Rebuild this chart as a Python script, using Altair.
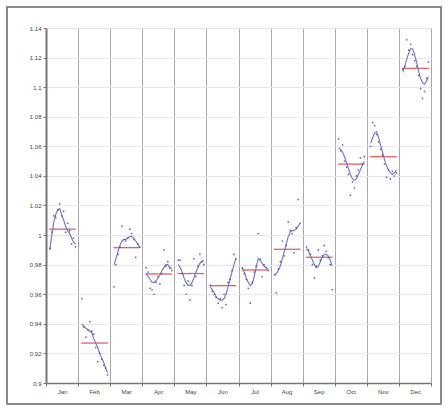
import altair as alt
import pandas as pd

# Month panels
months = ["Jan", "Feb", "Mar", "Apr", "May", "Jun",
          "Jul", "Aug", "Sep", "Oct", "Nov", "Dec"]

# Smoothed seasonal factor per month, one value per year
trend_jan = [0.990, 1.000, 1.009, 1.014, 1.017, 1.018, 1.014, 1.010, 1.006, 1.003, 1.001, 0.998, 0.995, 0.994]
trend_feb = [0.940, 0.938, 0.937, 0.936, 0.935, 0.934, 0.930, 0.927, 0.924, 0.920, 0.917, 0.914, 0.910, 0.907]
trend_mar = [0.980, 0.984, 0.989, 0.993, 0.996, 0.997, 0.997, 0.998, 0.999, 0.999, 0.998, 0.996, 0.994, 0.992]
trend_apr = [0.974, 0.972, 0.970, 0.968, 0.968, 0.969, 0.971, 0.973, 0.976, 0.978, 0.980, 0.980, 0.978, 0.977]
trend_may = [0.980, 0.978, 0.975, 0.971, 0.968, 0.966, 0.966, 0.968, 0.971, 0.975, 0.978, 0.981, 0.982, 0.983]
trend_jun = [0.965, 0.963, 0.961, 0.958, 0.957, 0.956, 0.956, 0.957, 0.960, 0.965, 0.970, 0.975, 0.980, 0.984]
trend_jul = [0.978, 0.975, 0.971, 0.968, 0.966, 0.967, 0.972, 0.978, 0.984, 0.983, 0.981, 0.979, 0.978, 0.977]
trend_aug = [0.973, 0.974, 0.976, 0.979, 0.984, 0.989, 0.994, 0.999, 1.002, 1.003, 1.003, 1.004, 1.006, 1.008]
trend_sep = [0.991, 0.989, 0.986, 0.983, 0.980, 0.978, 0.979, 0.982, 0.985, 0.987, 0.987, 0.986, 0.983, 0.979]
trend_oct = [1.059, 1.058, 1.056, 1.053, 1.049, 1.045, 1.041, 1.038, 1.037, 1.038, 1.041, 1.044, 1.047, 1.050]
trend_nov = [1.062, 1.066, 1.069, 1.070, 1.066, 1.061, 1.056, 1.051, 1.047, 1.044, 1.042, 1.041, 1.042, 1.044]
trend_dec = [1.110, 1.114, 1.119, 1.123, 1.126, 1.126, 1.122, 1.117, 1.111, 1.106, 1.103, 1.102, 1.104, 1.107]

# Observed seasonal-irregular ratios per month, one value per year
obs_jan = [0.991, 1.002, 1.013, 1.012, 1.017, 1.021, 1.013, 1.016, 1.002, 1.008, 1.003, 0.994, 0.998, 0.992]
obs_feb = [0.957, 0.938, 0.931, 0.936, 0.9415, 0.935, 0.933, 0.924, 0.9145, 0.920, 0.916, 0.912, 0.910, 0.9055]
obs_mar = [0.965, 0.980, 0.987, 0.992, 1.006, 0.997, 0.996, 0.998, 1.004, 1.001, 0.997, 0.985, 0.994, 0.992]
obs_apr = [0.978, 0.975, 0.964, 0.963, 0.960, 0.968, 0.972, 0.967, 0.974, 0.990, 0.979, 0.982, 0.978, 0.976]
obs_may = [0.983, 0.983, 0.974, 0.966, 0.960, 0.969, 0.956, 0.966, 0.984, 0.972, 0.979, 0.987, 0.982, 0.980]
obs_jun = [0.966, 0.962, 0.960, 0.958, 0.954, 0.957, 0.951, 0.960, 0.953, 0.968, 0.970, 0.976, 0.987, 0.984]
obs_jul = [0.978, 0.974, 0.970, 0.964, 0.954, 0.968, 0.975, 0.979, 1.001, 0.984, 0.972, 0.980, 0.978, 0.976]
obs_aug = [0.973, 0.961, 0.977, 0.982, 0.996, 0.986, 0.993, 1.009, 1.003, 1.001, 0.988, 1.005, 1.024, 1.008]
obs_sep = [0.992, 0.990, 0.987, 0.980, 0.971, 0.979, 0.990, 0.983, 0.986, 0.993, 0.989, 0.985, 0.980, 0.963]
obs_oct = [1.065, 1.057, 1.061, 1.050, 1.046, 1.041, 1.027, 1.036, 1.032, 1.040, 1.044, 1.052, 1.048, 1.053]
obs_nov = [1.060, 1.076, 1.074, 1.068, 1.063, 1.058, 1.054, 1.048, 1.039, 1.044, 1.038, 1.043, 1.040, 1.042]
obs_dec = [1.112, 1.114, 1.132, 1.125, 1.129, 1.122, 1.118, 1.114, 1.108, 1.099, 1.0925, 1.097, 1.106, 1.117]

# Mean seasonal factor of each month
month_means = [1.004, 0.927, 0.9915, 0.9737, 0.974, 0.9658,
               0.9764, 0.9904, 0.985, 1.048, 1.053, 1.1127]

# Y axis ticks
y_ticks = [0.90, 0.92, 0.94, 0.96, 0.98, 1.00, 1.02,
           1.04, 1.06, 1.08, 1.10, 1.12, 1.14]

trends = [trend_jan, trend_feb, trend_mar, trend_apr, trend_may, trend_jun,
          trend_jul, trend_aug, trend_sep, trend_oct, trend_nov, trend_dec]
observed = [obs_jan, obs_feb, obs_mar, obs_apr, obs_may, obs_jun,
            obs_jul, obs_aug, obs_sep, obs_oct, obs_nov, obs_dec]

# Each month occupies one unit on the x scale; years spread across it
SPAN_START, SPAN_END = 0.12, 0.92
rows = []
for m, (tr, ob) in enumerate(zip(trends, observed)):
    n = len(tr)
    for j in range(n):
        pos = m + SPAN_START + j * (SPAN_END - SPAN_START) / (n - 1)
        rows.append({"month": months[m], "pos": pos, "trend": tr[j], "obs": ob[j]})
df = pd.DataFrame(rows)

means_df = pd.DataFrame({
    "month": months,
    "start": [m + 0.10 for m in range(12)],
    "end": [m + 0.93 for m in range(12)],
    "mean": month_means,
})

# Axis ticks at panel boundaries, month names at panel centres
x_values = [i / 2 for i in range(25)]
name_list = "[" + ",".join("'%s'" % m for m in months) + "]"
is_boundary = "datum.value % 1 === 0"

x_scale = alt.Scale(domain=[0, 12], nice=False, zero=False)
y_scale = alt.Scale(domain=[0.9, 1.14], nice=False, zero=False)

x_axis = alt.Axis(
    title=None,
    values=x_values,
    tickCount=len(x_values),
    labelExpr=f"datum.value % 1 === 0 ? '' : {name_list}[floor(datum.value)]",
    labelOverlap=False,
    labelFlush=False,
    labelFontSize=6,
    labelColor="#444444",
    labelPadding=2,
    grid=True,
    gridColor="#a8a8a8",
    gridWidth=1,
    gridOpacity={"condition": {"test": is_boundary, "value": 1}, "value": 0},
    tickOpacity={"condition": {"test": is_boundary, "value": 1}, "value": 0},
    tickSize=3,
    tickColor="#777777",
    domainColor="#777777",
    domainWidth=1.5,
)

y_axis = alt.Axis(
    title=None,
    values=y_ticks,
    tickCount=len(y_ticks),
    format=".2~f",
    labelOverlap=False,
    labelFontSize=6,
    labelColor="#444444",
    labelPadding=2,
    grid=True,
    gridColor="#e6e6e6",
    tickSize=3,
    tickColor="#777777",
    domainColor="#777777",
    domainWidth=2,
)

base = alt.Chart(df)

trend_line = base.mark_line(color="#7070d0", strokeWidth=1.1).encode(
    x=alt.X("pos:Q", scale=x_scale, axis=x_axis),
    y=alt.Y("trend:Q", scale=y_scale, axis=y_axis),
    detail="month:N",
)

obs_points = base.mark_circle(color="#4a4a9a", size=3, opacity=0.85).encode(
    x=alt.X("pos:Q", scale=x_scale),
    y=alt.Y("obs:Q", scale=y_scale),
)

mean_rules = alt.Chart(means_df).mark_rule(color="#e8605c", strokeWidth=1.3).encode(
    x=alt.X("start:Q", scale=x_scale),
    x2="end:Q",
    y=alt.Y("mean:Q", scale=y_scale),
)

# Outer frame around the whole figure
frame = alt.Chart(means_df).mark_rect(
    filled=False, stroke="#8a8a8a", strokeWidth=2
).encode(
    x=alt.value(-39), x2=alt.value(395),
    y=alt.value(-21), y2=alt.value(376),
)

chart = (
    alt.layer(frame, mean_rules, trend_line, obs_points)
    .properties(
        width=385,
        height=355,
        padding={"left": 46, "top": 28, "right": 17, "bottom": 28},
        autosize=alt.AutoSizeParams(type="none"),
        background="white",
    )
    .configure_view(strokeWidth=0)
    .configure_axis(labelFont="Liberation Sans")
)

chart.save("out.html", embed_options={"renderer": "svg", "actions": False})
